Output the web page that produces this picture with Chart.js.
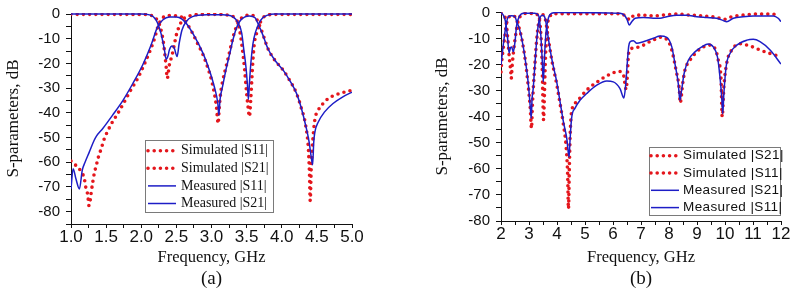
<!DOCTYPE html>
<html>
<head>
<meta charset="utf-8">
<script src="https://cdn.jsdelivr.net/npm/chart.js@4.4.1/dist/chart.umd.min.js"></script>
<style>
  body { margin: 0; background: #fff; }
  #wrap { position: relative; width: 792px; height: 298px; }
  canvas { position: absolute; top: 0; }
  #chartA { left: 0; }
  #chartB { left: 396px; }
</style>
</head>
<body>
<div id="wrap">
  <canvas id="chartA" width="396" height="298"></canvas>
  <canvas id="chartB" width="396" height="298"></canvas>
</div>
<script>
// panel (a), points are [GHz, dB]
const simS11a = [[1.0,-0.1],[1.6,-0.1],[2.05,-0.15],[2.12,-0.4],[2.19,-1.2],[2.26,-4.3],[2.31,-10.5],[2.335,-16],[2.355,-21.5],[2.37,-26],[2.40,-20.6],[2.44,-16.5],[2.47,-12.5],[2.50,-8.4],[2.54,-5],[2.59,-2.3],[2.69,-0.7],[2.8,-0.2],[3.0,-0.1],[3.2,-0.3],[3.3,-0.9],[3.35,-2],[3.39,-5],[3.43,-12],[3.47,-22],[3.5,-32],[3.52,-37.5],[3.54,-41.5],[3.56,-34],[3.575,-26],[3.59,-18.6],[3.61,-11.8],[3.65,-7.1],[3.69,-3.7],[3.73,-1.6],[3.80,-0.4],[3.9,-0.1],[5.0,-0.1]]
const simS21a = [[1.0,-59.5],[1.07,-61.3],[1.14,-63.6],[1.19,-66.7],[1.21,-70.1],[1.24,-73.5],[1.255,-77.5],[1.27,-76.2],[1.285,-72.8],[1.31,-68],[1.33,-64.7],[1.36,-61.3],[1.39,-57.9],[1.43,-54.5],[1.475,-50.4],[1.52,-47.5],[1.59,-43.7],[1.665,-40.3],[1.76,-35.5],[1.85,-30.8],[1.95,-26],[2.05,-19.9],[2.12,-15.2],[2.19,-9.8],[2.245,-4.4],[2.31,-1.4],[2.4,-0.6],[2.52,-0.7],[2.59,-1.6],[2.66,-4.3],[2.73,-7.7],[2.80,-11.8],[2.88,-16.5],[2.95,-22],[3.0,-26.7],[3.04,-32],[3.07,-37.5],[3.095,-44.3],[3.11,-38],[3.13,-32],[3.16,-27],[3.21,-21],[3.26,-15],[3.30,-10],[3.35,-5.5],[3.40,-2.5],[3.46,-1],[3.54,-0.4],[3.62,-1],[3.67,-3.7],[3.73,-8],[3.80,-13.8],[3.9,-18.6],[4.02,-22.7],[4.11,-26.7],[4.21,-32.1],[4.28,-38.2],[4.34,-45],[4.38,-55],[4.395,-65],[4.405,-75.5],[4.42,-62],[4.44,-52],[4.47,-43],[4.52,-38.9],[4.59,-36.2],[4.66,-34.2],[4.76,-32.8],[4.83,-32.1],[4.92,-31.4],[5.0,-30.8]]
const measS11a = [[1.0,0],[2.0,0],[2.12,-0.3],[2.21,-2.3],[2.28,-7.7],[2.33,-14.5],[2.355,-18.3],[2.38,-17],[2.40,-14.5],[2.44,-12.9],[2.47,-13.8],[2.51,-17.2],[2.54,-11.8],[2.58,-6.4],[2.64,-3],[2.73,-1],[2.93,-0.3],[3.16,-0.3],[3.30,-1],[3.38,-3.7],[3.43,-7.7],[3.46,-14.5],[3.49,-21.3],[3.51,-28],[3.525,-34.5],[3.54,-28],[3.56,-20],[3.59,-12],[3.63,-7],[3.68,-3.5],[3.73,-1.5],[3.80,-0.4],[3.9,0],[5.0,0]]
const measS21a = [[1.0,-70.8],[1.03,-62.6],[1.07,-66.7],[1.12,-70.8],[1.16,-63.3],[1.20,-60],[1.26,-55.9],[1.33,-51.1],[1.36,-49.5],[1.45,-46.4],[1.59,-41],[1.74,-34.9],[1.88,-28.1],[2.02,-20.6],[2.14,-12.5],[2.235,-5],[2.31,-2.3],[2.40,-1.2],[2.50,-1.2],[2.58,-2],[2.64,-3.7],[2.76,-9.1],[2.88,-15.9],[2.97,-22.7],[3.04,-29.4],[3.09,-36.2],[3.105,-41],[3.12,-35],[3.16,-29],[3.21,-22],[3.26,-16],[3.30,-11],[3.35,-6],[3.40,-3],[3.47,-1.2],[3.54,-0.8],[3.62,-1.5],[3.66,-3.7],[3.73,-8.4],[3.80,-13.8],[3.9,-18.6],[4.02,-22.7],[4.11,-26.7],[4.21,-32.1],[4.28,-38.2],[4.34,-45],[4.39,-51.8],[4.42,-58],[4.44,-61],[4.455,-52],[4.47,-48],[4.52,-43.7],[4.61,-39.6],[4.73,-36.2],[4.87,-33.5],[5.0,-31.6]]

// panel (b)
const simS21b = [[2.0,-22.8],[2.02,-19.5],[2.08,-13.8],[2.14,-8.7],[2.2,-4.2],[2.26,-2.2],[2.38,-1.2],[2.5,-1.6],[2.56,-3],[2.65,-6],[2.75,-10.5],[2.87,-18.5],[2.98,-29],[3.04,-36],[3.09,-44.4],[3.12,-36],[3.16,-28],[3.21,-20],[3.27,-11],[3.33,-5],[3.39,-2],[3.47,-0.8],[3.55,-1.3],[3.6,-3.5],[3.69,-10],[3.81,-18],[3.99,-27.5],[4.11,-35],[4.23,-43],[4.33,-52],[4.38,-62],[4.41,-75.3],[4.44,-60],[4.47,-47],[4.52,-38.2],[4.70,-34.3],[5.06,-29.8],[5.48,-26.3],[5.71,-24.7],[5.95,-23.4],[6.19,-22.6],[6.37,-23.8],[6.47,-29.5],[6.52,-22.8],[6.55,-16.3],[6.61,-14.4],[6.73,-13.5],[6.96,-13.2],[7.2,-11.8],[7.44,-10.6],[7.68,-9.5],[7.92,-10.3],[8.1,-14.4],[8.25,-22.1],[8.37,-29.8],[8.40,-34.7],[8.49,-27.2],[8.57,-22.1],[8.75,-18.3],[8.99,-15.1],[9.23,-13.2],[9.46,-12.5],[9.64,-13.8],[9.76,-18.3],[9.86,-26],[9.9,-40],[9.96,-28.5],[10.06,-19.5],[10.24,-14.4],[10.54,-12],[10.7,-12.3],[10.89,-12.8],[11.25,-14.4],[11.61,-15.7],[12.0,-17]]
const simS11b = [[2.0,-0.2],[2.1,-1],[2.18,-3.5],[2.24,-9.9],[2.30,-17.6],[2.35,-22.8],[2.365,-25.3],[2.40,-20.2],[2.46,-13.8],[2.54,-7.4],[2.62,-2.9],[2.74,-1],[2.9,-0.3],[3.2,-0.4],[3.33,-1.5],[3.40,-5],[3.45,-14],[3.48,-25],[3.50,-35],[3.52,-41.2],[3.55,-32],[3.58,-20],[3.62,-10],[3.67,-4],[3.75,-1.5],[3.85,-0.5],[6.3,-0.5],[6.45,-1.5],[6.55,-2.5],[6.61,-2.8],[6.7,-1.5],[6.79,-1],[7.08,-1],[7.44,-1.3],[7.8,-1],[8.28,-0.6],[8.75,-1],[9.23,-1.3],[9.7,-1.9],[10.0,-2.6],[10.24,-1.6],[10.65,-1],[11.13,-0.6],[11.49,-0.6],[11.79,-0.7]]
const measS21b = [[2.0,-20.2],[2.08,-12.5],[2.18,-4.8],[2.26,-1.6],[2.38,-1.2],[2.5,-1.6],[2.56,-3.5],[2.65,-6],[2.74,-9.9],[2.86,-17.6],[2.98,-27.9],[3.04,-35.6],[3.08,-40.6],[3.11,-33],[3.15,-29.2],[3.21,-20.2],[3.27,-11.2],[3.33,-4.8],[3.39,-2],[3.48,-1],[3.55,-1.5],[3.6,-3.5],[3.69,-9.9],[3.81,-17.6],[3.99,-26.6],[4.11,-34.3],[4.23,-42],[4.35,-48.4],[4.43,-55.5],[4.46,-50],[4.52,-40.7],[4.64,-36.8],[4.82,-33.7],[5.06,-31.1],[5.42,-27.9],[5.78,-26.3],[6.01,-26.6],[6.25,-29.2],[6.39,-32.8],[6.45,-28],[6.5,-20.8],[6.56,-13],[6.61,-11.2],[6.73,-10.8],[6.85,-11.8],[7.08,-11.2],[7.44,-9.9],[7.68,-9],[7.92,-9.5],[8.10,-13.2],[8.21,-19.5],[8.33,-27.2],[8.39,-33.7],[8.45,-29.8],[8.54,-23.4],[8.69,-18.3],[8.93,-15.1],[9.17,-13.2],[9.40,-12.1],[9.58,-13.2],[9.73,-17],[9.82,-24.7],[9.89,-33.7],[9.92,-38.8],[9.96,-31.1],[10.04,-20.8],[10.18,-15.7],[10.42,-12.5],[10.78,-10.6],[11.01,-10.3],[11.25,-11.2],[11.61,-14.4],[12.0,-19.8]]
const measS11b = [[2.0,0],[2.08,-1],[2.15,-3],[2.22,-8],[2.29,-15.5],[2.34,-13.5],[2.38,-13.2],[2.44,-15.1],[2.5,-11.2],[2.56,-4.8],[2.65,-1.6],[2.8,-0.3],[3.2,-0.3],[3.33,-1],[3.37,-2.2],[3.43,-9.9],[3.47,-17.6],[3.51,-26.6],[3.55,-17.6],[3.61,-7.4],[3.69,-2.2],[3.81,-0.3],[4.0,0],[6.25,-0.3],[6.43,-1.3],[6.51,-2.9],[6.58,-4.8],[6.67,-3.5],[6.79,-2.2],[7.08,-1.9],[7.44,-2.2],[7.68,-2.2],[7.92,-1.6],[8.28,-1],[8.63,-1],[8.99,-1.6],[9.35,-1.9],[9.7,-2.2],[9.94,-3.1],[10.06,-3.5],[10.3,-2.2],[10.65,-1.6],[11.01,-1.3],[11.37,-1.3],[11.73,-1.3],[11.9,-2.2],[12.0,-3.5]]

// major tick labels, minor ticks sit halfway between
const xMajorA = [1.0, 1.5, 2.0, 2.5, 3.0, 3.5, 4.0, 4.5, 5.0]
const yMajorA = [-80, -70, -60, -50, -40, -30, -20, -10, 0]
const xMajorB = [2, 3, 4, 5, 6, 7, 8, 9, 10, 11, 12]
const yMajorB = [-80, -70, -60, -50, -40, -30, -20, -10, 0]

const RED = "#e4161c"
const BLUE = "#1d1dc6"
const INK = "#111"
const SERIF = "'Liberation Serif', 'Times New Roman', serif"
const SANS = "'Liberation Sans', Arial, sans-serif"

function pts(arr) {
  return arr.map(([x, y]) => ({ x, y }))
}

function simSet(label, arr) {
  return { label, data: pts(arr), borderColor: RED, borderWidth: 3.6, borderDash: [0, 6.2], borderCapStyle: "round", pointRadius: 0, cubicInterpolationMode: "monotone", fill: false }
}

function measSet(label, arr) {
  return { label, data: pts(arr), borderColor: BLUE, borderWidth: 1.5, pointRadius: 0, cubicInterpolationMode: "monotone", fill: false }
}

function withMinor(majors, extra) {
  const out = extra ? extra.slice() : []
  majors.forEach((v, i) => {
    out.push(v)
    if (i < majors.length - 1) out.push((v + majors[i + 1]) / 2)
  })
  return out.sort((a, b) => a - b)
}

// legend frame drawn inside the plot
const boxLegend = {
  id: "boxLegend",
  afterDatasetsDraw(chart, args, o) {
    const ctx = chart.ctx
    ctx.save()
    ctx.fillStyle = "#fff"
    ctx.fillRect(o.x, o.y, o.w, o.h)
    ctx.strokeStyle = "#7a7a7a"
    ctx.lineWidth = 1
    ctx.strokeRect(o.x + 0.5, o.y + 0.5, o.w, o.h)
    o.rows.forEach((di, i) => {
      const ds = chart.data.datasets[di]
      const cy = o.y + o.first + i * o.gap
      ctx.beginPath()
      ctx.strokeStyle = ds.borderColor
      ctx.lineWidth = ds.borderWidth
      ctx.lineCap = ds.borderCapStyle || "butt"
      ctx.setLineDash(ds.borderDash || [])
      ctx.moveTo(o.x + o.s0, cy)
      ctx.lineTo(o.x + o.s1, cy)
      ctx.stroke()
      ctx.setLineDash([])
      ctx.fillStyle = INK
      ctx.font = o.font
      ctx.letterSpacing = o.spacing || "0px"
      ctx.textBaseline = "middle"
      ctx.fillText(ds.label, o.x + o.tx, cy)
    })
    ctx.restore()
  }
}

function makeChart(id, c) {
  const axisLine = { display: true, color: INK, width: 1 }
  return new Chart(document.getElementById(id), {
    type: "line",
    data: { datasets: c.datasets },
    options: {
      responsive: false,
      animation: false,
      devicePixelRatio: 1,
      layout: { padding: { left: 0, top: c.top, right: c.right, bottom: 0 } },
      plugins: {
        legend: { display: false },
        tooltip: { enabled: false },
        subtitle: {
          display: true, position: "bottom", fullSize: false, text: c.caption, color: INK,
          font: { family: SERIF, size: 19, weight: "normal" }, padding: { top: 0, bottom: 8 }
        },
        boxLegend: c.legend
      },
      scales: {
        x: {
          type: "linear", min: c.xMin, max: c.xMax,
          afterBuildTicks: (s) => { s.ticks = withMinor(c.xMajor).map((v) => ({ value: v })) },
          afterFit: (s) => { s.height = c.xHeight; s.paddingLeft = 0; s.paddingRight = 0 },
          border: axisLine,
          grid: { drawOnChartArea: false, drawTicks: true, tickLength: 4, color: INK },
          ticks: {
            autoSkip: false, maxRotation: 0, minRotation: 0, padding: -1, color: INK,
            font: { family: SANS, size: 17 },
            callback: (v) => (c.xMajor.some((m) => Math.abs(m - v) < 1e-9) ? c.xFmt(v) : "")
          },
          title: { display: true, text: "Frequency, GHz", color: INK, font: { family: SERIF, size: 16.5 }, padding: { top: 0, bottom: 0 } }
        },
        y: {
          type: "linear", min: c.yMin, max: c.yMax,
          afterBuildTicks: (s) => { s.ticks = withMinor(c.yMajor, c.yExtra).map((v) => ({ value: v })) },
          afterFit: (s) => { s.width = c.yWidth; s.paddingTop = 0; s.paddingBottom = 0 },
          border: axisLine,
          grid: { drawOnChartArea: false, drawTicks: true, tickLength: 5, color: INK },
          ticks: {
            autoSkip: false, padding: 6, color: INK,
            font: { family: SANS, size: 15 },
            callback: (v) => (c.yMajor.includes(v) ? String(v) : "")
          },
          title: { display: true, text: "S-parameters, dB", color: INK, font: { family: SERIF, size: 17 }, padding: { top: c.yTitlePad, bottom: 0 } }
        }
      }
    },
    plugins: [boxLegend]
  })
}

makeChart("chartA", {
  datasets: [
    measSet("Measured |S11|", measS11a),
    measSet("Measured |S21|", measS21a),
    simSet("Simulated |S11|", simS11a),
    simSet("Simulated |S21|", simS21a)
  ],
  caption: "(a)",
  top: 13, right: 44, xHeight: 43.2, yWidth: 71, yTitlePad: 3.8,
  xMin: 1, xMax: 5, yMin: -85, yMax: 0.45,
  xMajor: xMajorA, yMajor: yMajorA, yExtra: [-85],
  xFmt: (v) => v.toFixed(1),
  legend: { x: 145, y: 140, w: 128, h: 72, first: 10.7, gap: 17.6, s0: 3, s1: 31, tx: 36, rows: [2, 3, 0, 1], font: "14px " + SERIF }
})

makeChart("chartB", {
  datasets: [
    measSet("Measured |S21|", measS21b),
    measSet("Measured |S11|", measS11b),
    simSet("Simulated |S21|", simS21b),
    simSet("Simulated |S11|", simS11b)
  ],
  caption: "(b)",
  top: 12, right: 11, xHeight: 46.2, yWidth: 105, yTitlePad: 36.8,
  xMin: 2, xMax: 12, yMin: -80, yMax: 0.2,
  xMajor: xMajorB, yMajor: yMajorB, yExtra: [],
  xFmt: (v) => String(v),
  legend: { x: 253, y: 147, w: 131, h: 68, first: 8.7, gap: 17.3, s0: 2, s1: 30, tx: 34, rows: [2, 3, 0, 1], font: "13.5px " + SANS, spacing: "0.4px" }
})
</script>
</body>
</html>
